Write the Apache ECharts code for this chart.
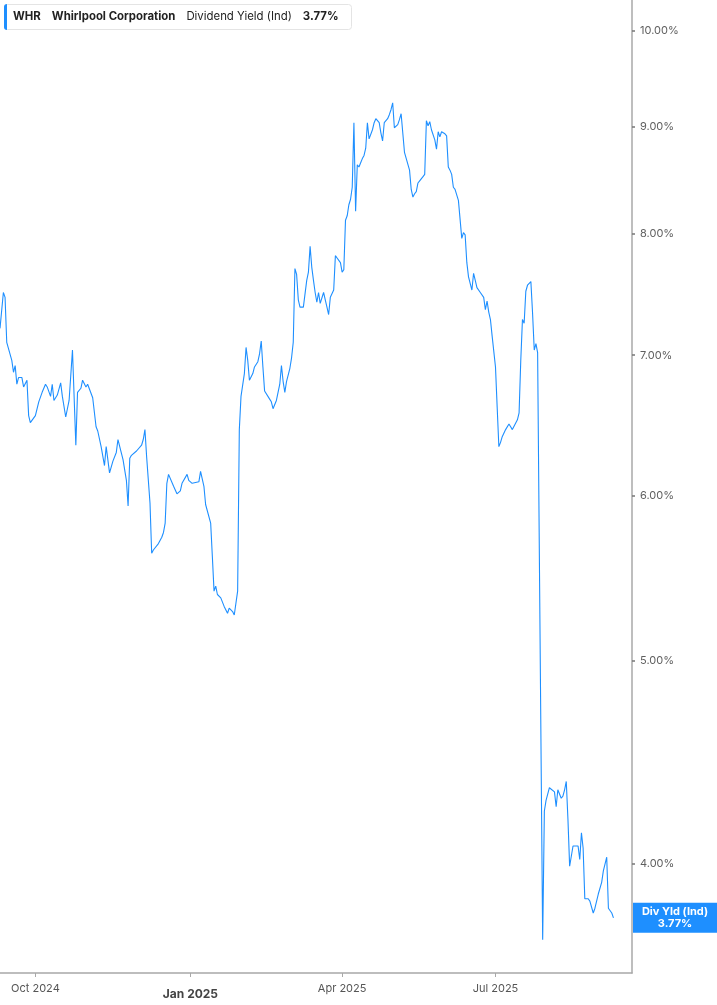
<!DOCTYPE html>
<html><head><meta charset="utf-8">
<script src="https://cdn.jsdelivr.net/npm/echarts@6/dist/echarts.min.js"></script>
<style>html,body{margin:0;padding:0;background:#fff}#chart{width:717px;height:1005px}</style>
</head><body><div id="chart"></div>
<script>
const ticker = 'WHR';
const company = 'Whirlpool Corporation';
const metric = 'Dividend Yield (Ind)';
const shortMetric = 'Div Yld (Ind)';

const dates = [
'2024-09-10','2024-09-11','2024-09-12','2024-09-13','2024-09-14','2024-09-17','2024-09-18','2024-09-19','2024-09-20','2024-09-21',
'2024-09-23','2024-09-24','2024-09-26','2024-09-27','2024-09-28','2024-10-01','2024-10-03','2024-10-05','2024-10-07','2024-10-08',
'2024-10-10','2024-10-11','2024-10-12','2024-10-14','2024-10-16','2024-10-17','2024-10-18','2024-10-19','2024-10-21','2024-10-23',
'2024-10-24','2024-10-25','2024-10-26','2024-10-28','2024-10-29','2024-10-31','2024-11-01','2024-11-04','2024-11-06','2024-11-07',
'2024-11-09','2024-11-11','2024-11-12','2024-11-14','2024-11-15','2024-11-16','2024-11-18','2024-11-19','2024-11-20','2024-11-22',
'2024-11-24','2024-11-25','2024-11-26','2024-11-27','2024-11-30','2024-12-03','2024-12-04','2024-12-05','2024-12-06','2024-12-08',
'2024-12-09','2024-12-10','2024-12-11','2024-12-13','2024-12-15','2024-12-16','2024-12-17','2024-12-18','2024-12-19','2024-12-22',
'2024-12-24','2024-12-26','2024-12-27','2024-12-30','2024-12-31','2025-01-02','2025-01-06','2025-01-07','2025-01-08','2025-01-09',
'2025-01-10','2025-01-13','2025-01-14','2025-01-15','2025-01-16','2025-01-17','2025-01-19','2025-01-21','2025-01-22','2025-01-23',
'2025-01-24','2025-01-26','2025-01-27','2025-01-28','2025-01-29','2025-01-30','2025-01-31','2025-02-02','2025-02-03','2025-02-04',
'2025-02-05','2025-02-06','2025-02-07','2025-02-08','2025-02-10','2025-02-11','2025-02-12','2025-02-13','2025-02-14','2025-02-15',
'2025-02-17','2025-02-18','2025-02-19','2025-02-20','2025-02-21','2025-02-23','2025-02-24','2025-02-25','2025-02-26','2025-02-27',
'2025-03-01','2025-03-02','2025-03-03','2025-03-04','2025-03-05','2025-03-06','2025-03-07','2025-03-09','2025-03-10','2025-03-11',
'2025-03-12','2025-03-13','2025-03-14','2025-03-15','2025-03-16','2025-03-17','2025-03-18','2025-03-19','2025-03-20','2025-03-21',
'2025-03-22','2025-03-23','2025-03-24','2025-03-25','2025-03-26','2025-03-27','2025-03-28','2025-03-29','2025-03-31','2025-04-01',
'2025-04-02','2025-04-03','2025-04-04','2025-04-05','2025-04-06','2025-04-07','2025-04-08','2025-04-09','2025-04-10','2025-04-11',
'2025-04-12','2025-04-13','2025-04-14','2025-04-15','2025-04-16','2025-04-17','2025-04-19','2025-04-20','2025-04-21','2025-04-23',
'2025-04-24','2025-04-25','2025-04-26','2025-04-27','2025-04-28','2025-04-29','2025-04-30','2025-05-01','2025-05-02','2025-05-04',
'2025-05-05','2025-05-06','2025-05-07','2025-05-08','2025-05-09','2025-05-11','2025-05-12','2025-05-13','2025-05-14','2025-05-15',
'2025-05-16','2025-05-17','2025-05-19','2025-05-20','2025-05-21','2025-05-22','2025-05-23','2025-05-24','2025-05-26','2025-05-27',
'2025-05-28','2025-05-29','2025-05-30','2025-06-01','2025-06-02','2025-06-03','2025-06-04','2025-06-05','2025-06-06','2025-06-07',
'2025-06-09','2025-06-11','2025-06-12','2025-06-13','2025-06-14','2025-06-15','2025-06-17','2025-06-18','2025-06-19','2025-06-20',
'2025-06-22','2025-06-24','2025-06-25','2025-06-26','2025-06-27','2025-06-28','2025-06-29','2025-07-01','2025-07-02','2025-07-03',
'2025-07-04','2025-07-05','2025-07-07','2025-07-09','2025-07-10','2025-07-11','2025-07-12','2025-07-14','2025-07-15','2025-07-16',
'2025-07-17','2025-07-18','2025-07-19','2025-07-20','2025-07-22','2025-07-23','2025-07-24','2025-07-25','2025-07-26','2025-07-29',
'2025-07-30','2025-07-31','2025-08-02','2025-08-03','2025-08-05','2025-08-06','2025-08-07','2025-08-09','2025-08-10','2025-08-11',
'2025-08-12','2025-08-13','2025-08-14','2025-08-16','2025-08-17','2025-08-19','2025-08-20','2025-08-21','2025-08-22','2025-08-23',
'2025-08-25','2025-08-26','2025-08-28','2025-08-29','2025-08-31','2025-09-02','2025-09-03','2025-09-05','2025-09-06','2025-09-08',
'2025-09-09'
];

const yields = [
7.21,7.21,7.50,7.46,7.10,6.96,6.87,6.92,6.78,6.83,
6.83,6.76,6.81,6.55,6.50,6.55,6.65,6.72,6.78,6.76,
6.69,6.78,6.66,6.70,6.79,6.69,6.68,6.54,6.66,7.04,
7.04,6.34,6.72,6.75,6.81,6.76,6.78,6.68,6.47,6.44,
6.33,6.20,6.33,6.15,6.14,6.23,6.29,6.38,6.37,6.24,
6.10,5.93,6.25,6.27,6.30,6.34,6.38,6.45,6.26,5.95,
5.63,5.65,5.64,5.69,5.73,5.76,5.82,6.08,6.14,6.06,
6.01,6.03,6.08,6.14,6.10,6.08,6.09,6.16,6.16,6.06,
5.94,5.82,5.61,5.40,5.43,5.38,5.36,5.31,5.30,5.27,
5.30,5.28,5.26,5.27,5.40,6.45,6.69,6.86,7.06,6.96,
6.81,6.80,6.86,6.91,6.95,7.01,7.11,6.91,6.73,6.72,
6.67,6.65,6.60,6.59,6.66,6.78,6.92,6.80,6.72,6.80,
6.90,6.98,7.10,7.70,7.65,7.44,7.38,7.38,7.39,7.60,
7.67,7.89,7.71,7.60,7.50,7.42,7.50,7.41,7.42,7.50,
7.44,7.38,7.32,7.46,7.47,7.52,7.81,7.79,7.75,7.67,
7.69,8.12,8.16,8.26,8.31,8.42,9.04,8.20,8.63,8.61,
8.65,8.69,8.72,8.79,9.04,8.88,8.97,9.04,9.08,9.04,
8.94,8.86,9.04,9.05,9.08,9.12,9.17,9.24,8.99,9.02,
9.07,9.13,9.14,8.75,8.74,8.58,8.40,8.33,8.36,8.38,
8.46,8.48,8.52,8.54,9.06,9.01,9.05,8.97,8.87,8.78,
8.95,8.90,8.95,8.93,8.91,8.61,8.58,8.54,8.42,8.40,
8.30,7.96,8.01,7.99,7.75,7.63,7.52,7.66,7.60,7.54,
7.50,7.46,7.36,7.43,7.34,7.28,7.15,6.91,6.61,6.33,
6.36,6.40,6.45,6.49,6.47,6.45,6.46,6.52,6.57,6.96,
7.28,7.25,7.51,7.56,7.59,7.33,7.04,7.09,7.02,3.68,
4.24,4.29,4.35,4.35,4.33,4.26,4.34,4.30,4.31,4.34,
4.38,4.20,3.99,4.08,4.08,4.08,4.02,4.14,4.07,3.85,
3.85,3.84,3.79,3.81,3.87,3.92,3.97,4.03,3.81,3.79,
3.77
];

const yTicks = [4, 5, 6, 7, 8, 9, 10];
const monthNames = ['Jan','Feb','Mar','Apr','May','Jun','Jul','Aug','Sep','Oct','Nov','Dec'];

const lastValue = yields[yields.length - 1];
const BLUE = '#1e8fff';
const FONT = 'Inter, Roboto, "DejaVu Sans", sans-serif';

const chart = echarts.init(document.getElementById('chart'), null, {renderer: 'canvas'});
chart.setOption({
  animation: false,
  backgroundColor: '#fff',
  textStyle: {fontFamily: FONT},
  title: {
    left: 4, top: 4,
    padding: [0, 13, 0, 0],
    backgroundColor: '#fff',
    borderColor: '#e4e4e4', borderWidth: 1, borderRadius: 3,
    text: '{bar|}{g1|}{b|' + ticker + '}{g2|}{b|' + company + '}{g2|}{n|' + metric + '}{g2|}{b|' + lastValue.toFixed(2) + '%}',
    textStyle: {
      rich: {
        bar: {backgroundColor: BLUE, width: 3, height: 26, borderRadius: [3,0,0,3]},
        g1: {width: 6, height: 26},
        g2: {width: 11, height: 26},
        b: {fontFamily: FONT, fontSize: 11.4, fontWeight: 'bold', color: '#222', height: 26},
        n: {fontFamily: FONT, fontSize: 11.4, fontWeight: 'normal', color: '#222', height: 26}
      }
    }
  },
  grid: {left: 0, right: 85, top: 0, bottom: 32},
  xAxis: {
    type: 'time',
    min: '2024-09-10',
    max: '2025-09-20',
    splitNumber: 4,
    axisLine: {show: true, lineStyle: {color: '#a8a8a8', width: 1.5}},
    axisTick: {show: true, length: 4, lineStyle: {color: '#a8a8a8', width: 1}},
    splitLine: {show: false},
    axisLabel: {
      margin: 10,
      hideOverlap: false,
      showMinLabel: false, showMaxLabel: false,
      formatter: function (v) {
        const d = new Date(v);
        const m = d.getMonth();
        if (d.getDate() !== 1 || m % 3 !== 0) return '';
        const txt = monthNames[m] + ' ' + d.getFullYear();
        return m === 0 ? '{y|' + txt + '}' : '{m|' + txt + '}';
      },
      rich: {
        m: {fontFamily: FONT, fontSize: 11, color: '#555'},
        y: {fontFamily: FONT, fontSize: 12, fontWeight: 'bold', color: '#444', padding: [5, 0, 0, 0]}
      }
    }
  },
  yAxis: {
    type: 'log',
    logBase: 10,
    position: 'right',
    min: 3.548,
    max: 10.346,
    axisLine: {show: true, lineStyle: {color: '#a8a8a8', width: 1.5}},
    axisTick: {show: true, customValues: yTicks, length: 3, lineStyle: {color: '#777', width: 1.5}},
    splitLine: {show: false},
    axisLabel: {
      customValues: yTicks,
      margin: 8,
      fontFamily: FONT, fontSize: 11, color: '#5f5f5f',
      formatter: function (v) { return Number(v).toFixed(2) + '%'; }
    }
  },
  series: [{
    type: 'line',
    name: metric,
    data: dates.map((d, i) => [d, yields[i]]),
    showSymbol: false,
    symbol: 'none',
    lineStyle: {color: BLUE, width: 1.1},
    itemStyle: {color: BLUE},
    markLine: {
      silent: true,
      symbol: ['none', 'none'],
      lineStyle: {color: 'rgba(0,0,0,0)', width: 0, type: 'solid'},
      data: [{yAxis: lastValue}],
      label: {
        show: true,
        position: 'end',
        distance: 1,
        backgroundColor: BLUE,
        padding: [3, 4, 3, 4],
        formatter: '{a|' + shortMetric + '}\n{a|' + lastValue.toFixed(2) + '%}',
        rich: {
          a: {fontFamily: FONT, fontSize: 11, fontWeight: 'bold', color: '#fff', width: 76, align: 'center', lineHeight: 12}
        }
      }
    }
  }]
});
</script>
</body></html>
